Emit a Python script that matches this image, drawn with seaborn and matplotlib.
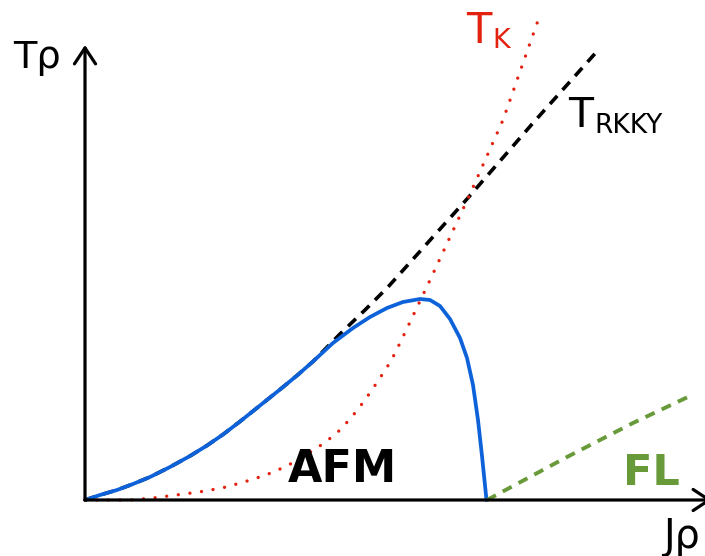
import matplotlib
matplotlib.use("Agg")
import matplotlib.pyplot as plt
import seaborn as sns
import pandas as pd

sns.set_style("white")
plt.rcParams["font.family"] = ["DejaVu Sans"]
plt.rcParams["text.color"] = "black"

# Doniach phase diagram: coupling J*rho on x, temperature T*rho on y
# Neel temperature of the antiferromagnet (solid blue)
tn_j = [0.0, 0.15, 0.32, 0.48, 0.65, 0.85, 1.05, 1.22, 1.38, 1.55, 1.75, 1.95,
        2.12, 2.28, 2.35, 2.48, 2.68, 2.85, 3.02, 3.18, 3.35, 3.45, 3.55, 3.65,
        3.75, 3.82, 3.88, 3.93, 3.97, 4.015]
tn_t = [0.0, 0.05, 0.10, 0.16, 0.23, 0.33, 0.44, 0.545, 0.655, 0.785, 0.945, 1.105,
        1.245, 1.385, 1.45, 1.57, 1.72, 1.83, 1.92, 1.98, 2.01, 2.00, 1.94, 1.81,
        1.62, 1.42, 1.15, 0.80, 0.44, 0.0]

# RKKY scale (black dashed)
rkky_j = [0.0, 0.15, 0.32, 0.48, 0.65, 0.85, 1.05, 1.22, 1.38, 1.55, 1.75, 1.95,
          2.12, 2.28, 2.55, 2.80, 3.03, 3.82, 4.48, 5.15]
rkky_t = [0.0, 0.05, 0.10, 0.16, 0.23, 0.33, 0.44, 0.545, 0.655, 0.785, 0.945, 1.105,
          1.245, 1.385, 1.66, 1.90, 2.13, 3.01, 3.77, 4.52]

# Kondo scale (red dotted)
tk_j = [0.0, 0.22, 0.45, 0.68, 0.91, 1.14, 1.37, 1.59, 1.81, 2.02, 2.32, 2.51,
        2.66, 2.80, 2.93, 3.06, 3.16, 3.26, 3.36, 3.46, 3.85, 4.18, 4.56]
tk_t = [0.0, 0.0, 0.0, 0.02, 0.05, 0.08, 0.12, 0.18, 0.25, 0.34, 0.52, 0.66,
        0.82, 1.00, 1.19, 1.39, 1.59, 1.80, 2.01, 2.22, 3.06, 3.80, 4.88]

# Fermi-liquid crossover (green dashed)
fl_j = [4.02, 4.82, 5.48, 6.05]
fl_t = [0.0, 0.43, 0.77, 1.04]

BLUE = "#0d62d9"
RED = "#e4200f"
GREEN = "#699a3a"

fig = plt.figure(figsize=(7.05, 5.56), dpi=100)
ax = fig.add_axes([0, 0, 1, 1])
ax.set_xlim(-0.85, 6.20)
ax.set_ylim(-0.56, 5.00)
ax.axis("off")

# Axes with open arrowheads
arrow = dict(arrowstyle="->,head_length=1.15,head_width=0.76", lw=2.3,
             color="black", shrinkA=0, shrinkB=0, mutation_scale=10)
ax.annotate("", xy=(0, 4.55), xytext=(0, 0), arrowprops=arrow, zorder=5)
ax.annotate("", xy=(6.27, 0), xytext=(0, 0), arrowprops=arrow, zorder=5,
            annotation_clip=False)

df_rkky = pd.DataFrame({"J": rkky_j, "T": rkky_t})
df_tn = pd.DataFrame({"J": tn_j, "T": tn_t})
df_tk = pd.DataFrame({"J": tk_j, "T": tk_t})
df_fl = pd.DataFrame({"J": fl_j, "T": fl_t})

sns.lineplot(data=df_rkky, x="J", y="T", ax=ax, sort=False, estimator=None,
             color="black", lw=2.6, linestyle=(0, (3.0, 2.2)), zorder=2)
sns.lineplot(data=df_tn, x="J", y="T", ax=ax, sort=False, estimator=None,
             color=BLUE, lw=2.7, zorder=3, solid_joinstyle="round")
sns.lineplot(data=df_fl, x="J", y="T", ax=ax, sort=False, estimator=None,
             color=GREEN, lw=2.8, linestyle=(0, (2.6, 2.0)), zorder=3)
sns.lineplot(data=df_tk, x="J", y="T", ax=ax, sort=False, estimator=None,
             color=RED, lw=2.4, linestyle=(0, (0.01, 3.5)),
             dash_capstyle="round", zorder=4)

# Labels
ax.text(-0.72, 4.32, "Tρ", fontsize=27.5, ha="left", va="baseline")
ax.text(5.78, -0.48, "Jρ", fontsize=28.5, ha="left", va="baseline")

ax.text(3.81, 4.57, "T", fontsize=30, color=RED, ha="left", va="baseline")
ax.text(4.07, 4.52, "K", fontsize=19.5, color=RED, ha="left", va="baseline")

ax.text(4.83, 3.73, "T", fontsize=29.5, color="black", ha="left", va="baseline")
ax.text(5.09, 3.67, "RKKY", fontsize=19, color="black", ha="left", va="baseline")

ax.text(2.03, 0.18, "AFM", fontsize=32, fontweight="heavy", color="black",
        ha="left", va="baseline", zorder=6)
ax.text(5.38, 0.15, "FL", fontsize=31, fontweight="heavy", color=GREEN,
        ha="left", va="baseline", zorder=6)

fig.savefig("out.png", dpi=100)
